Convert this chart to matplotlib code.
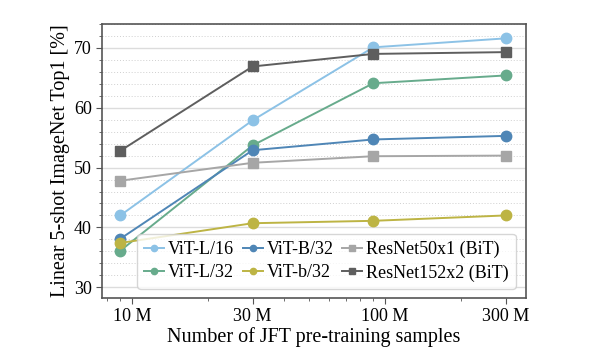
import matplotlib
matplotlib.use("Agg")
import matplotlib.pyplot as plt
from matplotlib.ticker import FixedLocator, MultipleLocator, NullFormatter

plt.rcParams['font.family'] = ['Liberation Serif', 'DejaVu Serif']
plt.rcParams['mathtext.fontset'] = 'stix'

samples = [9e6, 30e6, 90e6, 300e6]
xtick_vals = [10e6, 30e6, 100e6, 300e6]
xtick_labels = ['10 M', '30 M', '100 M', '300 M']

vit_l16 = [42.0, 57.9, 70.1, 71.6]
vit_l32 = [36.1, 53.7, 64.1, 65.4]
vit_b32 = [38.1, 52.9, 54.7, 55.3]
vit_bs32 = [37.4, 40.7, 41.1, 42.0]
resnet50 = [47.8, 50.8, 51.9, 52.0]
resnet152 = [52.8, 66.9, 69.0, 69.3]

series = [
    ('ViT-L/16', vit_l16, '#8cc2e6', 'o'),
    ('ViT-L/32', vit_l32, '#67ab8c', 'o'),
    ('ViT-B/32', vit_b32, '#4f86b6', 'o'),
    ('ViT-b/32', vit_bs32, '#bdb444', 'o'),
    ('ResNet50x1 (BiT)', resnet50, '#a6a6a6', 's'),
    ('ResNet152x2 (BiT)', resnet152, '#5e5e5e', 's'),
]

fig = plt.figure(figsize=(6.04, 3.53), dpi=100)
ax = fig.add_axes([101.7 / 604, 1 - 298 / 353, (525.7 - 101.7) / 604, (298 - 24) / 353])

for name, vals, col, mk in series:
    ax.plot(samples, vals, color=col, marker=mk, markersize=7.5, linewidth=1.4,
            label=name, zorder=3)

ax.set_xscale('log')
ax.set_xlim(7.6e6, 3.6e8)
ax.set_ylim(28.2, 74)
ax.xaxis.set_major_locator(FixedLocator(xtick_vals))
ax.set_xticklabels(xtick_labels)
ax.xaxis.set_minor_formatter(NullFormatter())
ax.yaxis.set_major_locator(MultipleLocator(10))
ax.yaxis.set_minor_locator(MultipleLocator(2))

ax.grid(True, axis='y', which='major', color='#dcdcdc', linewidth=1.0, zorder=0)
ax.grid(True, axis='y', which='minor', color='#cfcfcf', linewidth=0.7,
        linestyle=(0, (1, 2)), zorder=0)
ax.set_axisbelow(True)

for sp in ax.spines.values():
    sp.set_color('#555555')
    sp.set_linewidth(1.2)
ax.tick_params(axis='both', which='major', labelsize=13, length=4, color='#555555',
               direction='out', pad=3)
ax.tick_params(axis='both', which='minor', length=2.5, color='#555555', direction='out')

ax.set_xlabel('Number of JFT pre-training samples', fontsize=14.5, labelpad=2)
ax.set_ylabel('Linear 5-shot ImageNet Top1 [%]', fontsize=14.5, labelpad=3)

leg = ax.legend(loc='lower right', ncol=3, fontsize=13, handlelength=1.1,
                handletextpad=0.2, columnspacing=0.5, labelspacing=0.35,
                markerscale=0.6, borderpad=0.4, borderaxespad=0, fancybox=True,
                framealpha=0.8, edgecolor='#cccccc',
                bbox_to_anchor=(0.9764, 0.0328))

fig.savefig('out.png', dpi=100)
